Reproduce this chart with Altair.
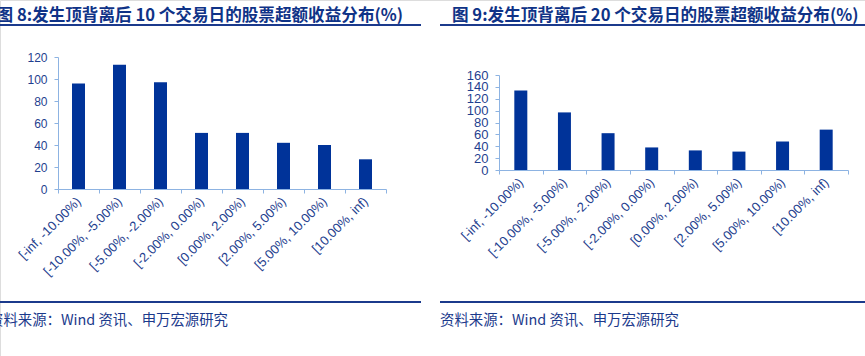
import altair as alt
import pandas as pd

categories = ["[-inf, -10.00%)", "[-10.00%, -5.00%)", "[-5.00%, -2.00%)", "[-2.00%, 0.00%)",
              "[0.00%, 2.00%)", "[2.00%, 5.00%)", "[5.00%, 10.00%)", "[10.00%, inf)"]
left_values = [96, 113, 97, 51, 51, 42, 40, 27]
right_values = [134, 97, 62, 38, 33, 31, 48, 68]
left_ticks = [0, 20, 40, 60, 80, 100, 120]
right_ticks = [0, 20, 40, 60, 80, 100, 120, 140, 160]
left_title = "图 8:发生顶背离后 10 个交易日的股票超额收益分布(%)"
right_title = "图 9:发生顶背离后 20 个交易日的股票超额收益分布(%)"
source_text = "资料来源：Wind 资讯、申万宏源研究"

BAR = "#003399"
AXIS = "#8DB3E2"
LABEL = "#1F3F8F"
TITLE = "#0F3387"
LINE = "#1B3A8C"
LATIN = "Liberation Sans"
CJK = "Noto Sans CJK SC"

W, H = 865, 356

df_left = pd.DataFrame({"bucket": categories, "value": left_values})
df_right = pd.DataFrame({"bucket": categories, "value": right_values})


def bars(df, xr, yr, dom, ticks, xoff, yoff, ysize):
    return alt.Chart(df).mark_bar(size=13, color=BAR).encode(
        x=alt.X("bucket:N", sort=categories,
                scale=alt.Scale(range=xr, paddingInner=0, paddingOuter=0),
                axis=alt.Axis(orient="bottom", offset=yoff, title=None, labelAngle=-45,
                              labelAlign="right", labelBaseline="middle", tickBand="extent",
                              tickSize=4, labelPadding=6, domainColor=AXIS, tickColor=AXIS,
                              labelColor=LABEL, labelFont=LATIN, labelFontSize=13,
                              grid=False, labelOverlap=False)),
        y=alt.Y("value:Q",
                scale=alt.Scale(domain=dom, range=yr, nice=False, zero=True),
                axis=alt.Axis(orient="left", offset=xoff, title=None, values=ticks,
                              tickSize=4, labelPadding=7, domainColor=AXIS, tickColor=AXIS,
                              labelColor=LABEL, labelFont=LATIN, labelFontSize=ysize,
                              grid=False, labelOverlap=False)),
    )


one = pd.DataFrame({"t": [0]})


def text(s, x, y, align, size, weight, color):
    return alt.Chart(pd.DataFrame({"t": [s]})).mark_text(
        align=align, baseline="alphabetic", font=CJK, fontSize=size, fontWeight=weight,
        color=color).encode(x=alt.value(x), y=alt.value(y), text="t:N")


def hline(x1, x2, y):
    return alt.Chart(one).mark_rule(color=LINE, strokeWidth=2).encode(
        x=alt.value(x1), x2=alt.value(x2), y=alt.value(y))


left_bars = bars(df_left, [58, 386], [189, 57], [0, 120], left_ticks, -58, 189 - H, 12)
right_bars = bars(df_right, [499, 848], [170, 75], [0, 160], right_ticks, -499, 170 - H, 13)

chart = alt.layer(
    left_bars,
    right_bars,
    text(left_title, 403, 21, "right", 16.6, "bold", TITLE),
    text(right_title, 452, 21, "left", 16.6, "bold", TITLE),
    hline(0, 421, 25),
    hline(440, 865, 25),
    hline(0, 421, 302),
    hline(440, 865, 302),
    text(source_text, 228, 325, "right", 14.4, "normal", LINE),
    text(source_text, 440, 325, "left", 14.4, "normal", LINE),
).resolve_scale(x="independent", y="independent").properties(
    width=W, height=H,
    autosize=alt.AutoSizeParams(type="none"),
    padding=0,
).configure_view(stroke=None).configure(background="white")

chart.save("out.html", embed_options={"renderer": "svg", "actions": False})
